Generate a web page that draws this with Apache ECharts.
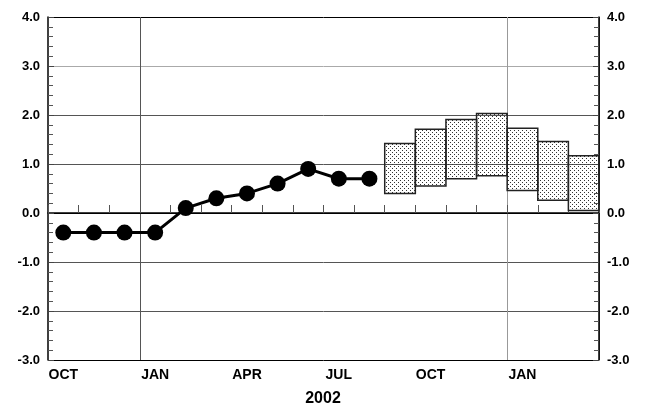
<!DOCTYPE html>
<html><head><meta charset="utf-8">
<script src="https://cdn.jsdelivr.net/npm/echarts@6/dist/echarts.min.js"></script>
<style>html,body{margin:0;padding:0;background:#fff}#c{width:650px;height:410px}</style>
</head><body><div id="c"></div>
<script>
const months = ['OCT','NOV','DEC','JAN','FEB','MAR','APR','MAY','JUN','JUL','AUG','SEP','OCT','NOV','DEC','JAN','FEB','MAR'];
const labeledIdx = [0,3,6,9,12,15];
const observed = [-0.4,-0.4,-0.4,-0.4,0.1,0.3,0.4,0.6,0.9,0.7,0.7];
const boxMonths = [11,12,13,14,15,16,17];
const boxLow = [0.40,0.55,0.70,0.76,0.46,0.26,0.05];
const boxHigh = [1.42,1.71,1.91,2.03,1.73,1.46,1.17];
const yearLabel = '2002';

const pc = document.createElement('canvas');
pc.width = 4; pc.height = 4;
const g = pc.getContext('2d');
g.fillStyle = '#333';
g.fillRect(0,0,1,1);
g.fillRect(2,2,1,1);
const pattern = {image: pc, repeat: 'repeat'};

const lineData = months.map((m,i)=> i < observed.length ? observed[i] : null);
const boxData = boxMonths.map((m,i)=>[m, boxLow[i], boxHigh[i]]);

const yFont = {fontFamily:'Liberation Sans', fontWeight:'bold', fontSize:13, color:'#000'};
const xFont = {fontFamily:'Liberation Sans', fontWeight:'bold', fontSize:14, color:'#000'};
const chart = echarts.init(document.getElementById('c'), null, {renderer:'canvas'});
const yBase = {
  type:'value', min:-3, max:4, interval:1,
  axisLine:{show:true, lineStyle:{color:'#000', width:1.5}},
  axisTick:{show:true, inside:true, length:6, lineStyle:{color:'#444'}},
  minorTick:{show:true, splitNumber:5, length:5, lineStyle:{color:'#555'}},
  axisLabel:Object.assign({formatter:v=>v.toFixed(1), margin:8}, yFont)
};
chart.setOption({
  animation:false,
  grid:{left:48, right:51, top:17, bottom:50},
  xAxis:[{
    type:'category', data:months, boundaryGap:true,
    axisLine:{lineStyle:{color:'#000', width:1.5}},
    axisTick:{show:true, inside:true, length:8, interval:0, lineStyle:{color:'#555'}},
    axisLabel:Object.assign({interval:(i)=>labeledIdx.includes(i), margin:8}, xFont),
    splitLine:{show:true, interval:(i)=> i===3 || i===15, lineStyle:{color:['#555','#999'], width:1}}
  }],
  yAxis:[
    Object.assign({}, yBase, {position:'left',
      splitLine:{show:true, lineStyle:{color:['#000','#555','#555','#000','#555','#555','#aaa','#000'], width:1}}}),
    Object.assign({}, yBase, {position:'right', splitLine:{show:false}})
  ],
  graphic:[{type:'text', x:323, y:391, style:{text:yearLabel, font:'bold 16px "Liberation Sans"', fill:'#000', align:'center', verticalAlign:'top'}}],
  series:[
    {type:'custom', xAxisIndex:0, yAxisIndex:0, data:boxData, z:1,
     renderItem:(params, api)=>{
       const i = api.value(0);
       const top = api.coord([i, api.value(2)]);
       const bot = api.coord([i, api.value(1)]);
       const w = api.size([1,0])[0];
       return {type:'rect', shape:{x:top[0]-w/2, y:top[1], width:w, height:bot[1]-top[1]},
               style:{fill:pattern, stroke:'#222', lineWidth:1.5}};
     }},
    {type:'line', data:lineData, symbol:'circle', symbolSize:16, z:3,
     lineStyle:{color:'#000', width:3}, itemStyle:{color:'#000'}}
  ]
});
</script></body></html>
